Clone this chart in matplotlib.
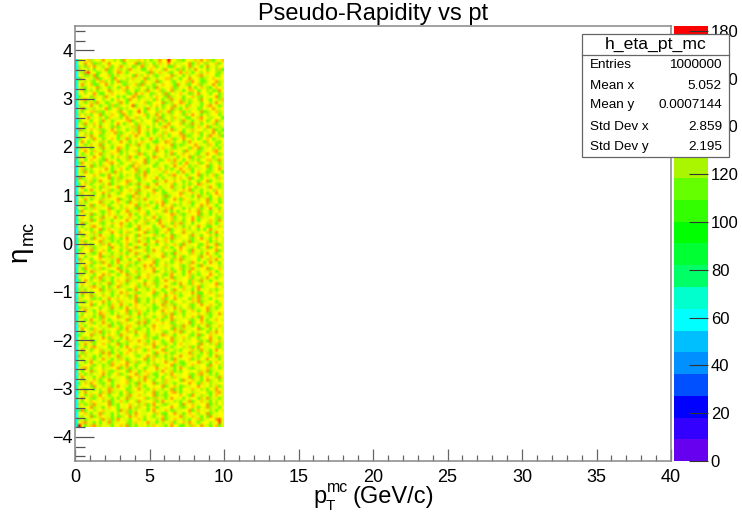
import numpy as np
from matplotlib import pyplot as plt
from matplotlib.colors import ListedColormap, BoundaryNorm
from matplotlib.patches import Rectangle
from matplotlib.ticker import MultipleLocator

plt.rcParams['font.family'] = ['Liberation Sans', 'DejaVu Sans']
plt.rcParams['mathtext.fontset'] = 'custom'
plt.rcParams['mathtext.rm'] = 'Liberation Sans'
plt.rcParams['mathtext.it'] = 'Liberation Sans'

# palette bands of the z axis, bottom to top
band_colors = ['#6600ee', '#3300ff', '#0000ff', '#0050ff', '#0090ff', '#00bfff', '#00ffff',
               '#00ffcc', '#00ff66', '#00ff33', '#00ff00', '#33ff00', '#66ff00', '#aaf500',
               '#ddff00', '#ffff00', '#ffcc00', '#ff9900', '#ff5500', '#ff0000']
z_max = 182
z_ticks = [0, 20, 40, 60, 80, 100, 120, 140, 160, 180]

stats_title = 'h_eta_pt_mc'
stats_names = ['Entries', 'Mean x', 'Mean y', 'Std Dev x', 'Std Dev y']
stats_values = ['1000000', '5.052', '0.0007144', '2.859', '2.195']

# cell colours are estimated by eye from the picture, so this is an approximation
# of the real noise. top row first, one digit per cell: band number minus 10
first_bin = ('67676667766767666776676667676766776667677666766767'
             '66776766677667676667767666776767667677666767766676'
             '7667676677667')
cells = [
    '4556345475443527544465352447559453325546475632456',
    '5475623354755542455716345246457534455724653354625',
    '3426574435625474452357345625452265435735425745355',
    '6453525447235635374452256545375442625347545245362',
    '4378452354235764255445427356453255746425435655324',
    '5423471555624354452743565324455734525354674455235',
    '2654437245427545346445724535566354255745423456545',
    '4435325663525723354452654472455325456375422455734',
    '5745622457435542345627354245655427453255624457425',
    '4325457354245265754435525274455623545742564325654',
    '5624352445735456245235374456245734425665245342375',
    '4535574225465455324756452345372545654235745425524',
    '2455264537455242557623453565427345425564325455724',
    '4673425534525654274535445265253745624345375425436',
    '5424637452345374255445623555724355764245425534754',
    '3455745245262345458254453565245374452654425675424',
    '5724435457245624355465274525345734256445235457445',
    '4255663325455375424585245536457245624355472345634',
    '6534255724465527434555625475244355426575425345524',
    '4557445352654425745634525347255364452254675434552',
    '2454255374524555672453555274625345374425465245734',
    '5374465245435752455264455352447555624374425456245',
    '4524535745426245446374525354675245453325645724434',
    '7245654324575345244375465225445734525464553457242',
    '4534255624457324556475425245364555724435625447524',
    '5464745234555264535745425446352454673245425375462',
    '2455374524565244735452457525345624574535245652445',
    '4752445364245475425356454224576435524745542654325',
    '5424654725434555264374425465545724234557445365244',
    '3654245374425764245535424575645324455265724453425',
    '4575364524455724354625445374524654527454234556745',
    '5245245734465425355476245245534725465453254755624',
    '6434575424525654374245425764534452545724634552445',
    '4525654327445245365455724452356474525434255664374',
    '2754435245675424553654725425455364257445624534524',
    '5445724364525345427564455234524574565243455724564',
    '4624355457424565245734425546534245754625445324574',
    '5374245654427435545624725445365452475425654234552',
    '4455565324754425345264745452453675452455724356245',
    '7245434555724624455324654575245435654725425445364',
    '4534624745425345764524455234574565425354245725445',
    '2564245435724455624374425475445624534245764455324',
    '4755435264455724355425674452545734425652445375424',
    '5424745354624425564374455725245434565724425453654',
    '3654425574354265445724534655224455734564425245754',
    '4254635424745455327464525445372545654425734425564',
    '5474245364455724425634745455324574265445354725424',
    '6424555734425654274534452465724545354624455734524',
    '4354725464245435455724364525745624354425574654245',
    '5424364455724534654274455325464755425354624574425',
    '2754455324654245734465425455374252445654735424564',
    '4534724425654354574245624534455764324455724425354',
    '5654245374457425464525354752445624534574264455324',
    '3454725634425455754245364527445634425574245464374',
    '4724455324564574425354624457445264734525455364245',
    '5254674534425564324574455245734564425354754225464',
    '4534245724654435455274564324457245464354252574455',
    '7455364245475425634455724324564255474534455624754',
    '5264434754425564355274455634245724455374425564245',
    '4455274564324425754354624245464734455324574425654',
    '3624455734425245654374425574465245534724455624354',
    '5574245364754425624455734425534564274455324654724',
    '4354624455274534654724425455364245754435245724654',
    '2455734564245425374455624754354425654274534455724',
    '5654324754425464245734534455624274455364425754245',
    '4524455724364425654354274455734425624455374564425',
    '7354245654434725425574354624455264734455245364754',
    '4455624374425754464234555724534245654374452574425',
    '3564245455734425624354757425464455324654274455534',
    '5274434624455724354425654754435245624374455724564',
    '4425764455324574245634455724534625425754354465245',
    '6354425574654245734425564455324754425634245574534',
    '4455264734425455364274564425354724455624534754245',
    '2574354624425654734455245324574564455264374425455',
    '5654425354724564245434754624455324754265534455724',
    '4354674425245734455624364525574455264534724455654',
    '3425455724634455324754425654245374564425754534245',
    '5764245435424574654324455724425634354574225464455',
    '4254734564425354624754455234574564245534724455364',
    '6455324254754654534724425354624574455264734425455',
    '4324654574245364455724425654374245534564724455245',
    '5455724534264574425654354245734624455324574564425',
    '2634455245374425754654534225464574354624455734245',
    '4574425654324455724364425254754534624564245734455',
    '5254534764425354624574245455364724425455654324574',
    '3654425274455734564425354245624754534564274425455',
    '4424754364245455724534624564245734455324574254654',
    '5354624574425264455374724455654235445724564324455',
    '6425455354724425664534254754455624374425254734564',
    '4754264534455624754324525654455274364455724425354',
    '5254464724354245634754425455324564724534455264754',
    '2455734425654374455245624534764425455324724564455',
    '4624354574264525754455634225455734564354245574425',
    '5354724455624254364574425654245734534455624274564',
    '3574425564354724255455634754324525654455274534624',
    '4425674455234525754364455724564245534624754455324',
    '5754245634425354574654264455724534255464374425754',
    '4264455374724425654354455274564235445734425624455',
    '7534425254654734455324574624425354754564245425734',
    '4354624574425364245455724654534274455624354754425',
    '5424754354264455734624425354574564225455734425654',
    '3455624524374564754245534624455724324564455274534',
    '4674245534455724624354245574564425754324455634524',
    '5254734564324455274524654534754624255455364724455',
    '6424354574245624455734564225534754455324674425245',
    '4754425624354455274564734425255364455724425654374',
    '5334564245724455624534754255364455274564425734524',
    '2564754324525455634274455724364425455754264534455',
    '4455274534624754425364255455724564234455754534624',
    '5624425354764455234574425654354724255464534254754',
    '3574455264734425624455354724425674254534455324674',
    '4524634754245425374564455724324555654274534425654',
    '5754324564425254734455624364425754525455264734424',
    '4254654534724564255374455624754534254724564425354',
    '6424374455724254564534624754324455274564455724354',
    '4455734425654254574364525624455754324564254734425',
    '2724534564455274624354425754564234455724654534254',
    '5564254734425354624754455364225574425654354724455',
    '4354724654425234574654354245624455734564425274455',
    '3424455374624754425564254534724564534254624455784',
    '5674425254734455324654574425354624564754245534584',
    '9424674354425564724254534654425754225364574425624',
]


def read_cells():
    # digit -> z value in the middle of its band
    band_width = z_max / len(band_colors)
    n_rows = len(cells)
    z = np.zeros((n_rows, 50))
    for i, row in enumerate(cells):
        digits = row[:49].ljust(49, '4')
        z[i, 0] = (int(first_bin[i % len(first_bin)]) + 0.5) * band_width
        for j, d in enumerate(digits):
            z[i, j + 1] = (int(d) + 10.5) * band_width
    return z


W, H = 742, 513
fig = plt.figure(figsize=(W / 100, H / 100), dpi=100)
ax = fig.add_axes((75 / W, 1 - 461 / H, 596 / W, 435 / H))

cmap = ListedColormap(band_colors)
norm = BoundaryNorm(np.linspace(0, z_max, len(band_colors) + 1), len(band_colors))

# the reference is a rescaled screenshot, so the cells blend a little
z = read_cells()
mesh = ax.imshow(z, cmap=cmap, norm=norm, extent=(0, 10, -3.8, 3.8), aspect='auto',
                 interpolation='bilinear', interpolation_stage='rgba')

ax.set_xlim(0, 40)
ax.set_ylim(-4.5, 4.5)
ax.xaxis.set_major_locator(MultipleLocator(5))
ax.xaxis.set_minor_locator(MultipleLocator(1))
ax.yaxis.set_major_locator(MultipleLocator(1))
ax.yaxis.set_minor_locator(MultipleLocator(0.2))
ax.tick_params(axis='x', which='major', direction='in', length=9, width=0.9, color='#666666',
               labelsize=13, pad=6)
ax.tick_params(axis='x', which='minor', direction='in', length=4.5, width=0.9, color='#666666')
ax.tick_params(axis='y', which='major', direction='in', length=14, width=0.9, color='#555555',
               labelsize=13, pad=2)
ax.tick_params(axis='y', which='minor', direction='in', length=7, width=0.9, color='#555555')
for side in ax.spines.values():
    side.set_color('#888888')
    side.set_linewidth(1.1)

# z axis
cax = fig.add_axes((674 / W, 1 - 461 / H, 34 / W, 435 / H))
cbar = fig.colorbar(mesh, cax=cax, ticks=z_ticks, spacing='proportional', drawedges=False)
cbar.outline.set_visible(False)
cbar.ax.minorticks_off()
cbar.ax.tick_params(direction='in', length=14, width=0.8, color='#333333', labelsize=12, pad=2)

# overlay in picture pixels for the title, labels and stats box
over = fig.add_axes((0, 0, 1, 1), zorder=5)
over.set_xlim(0, W)
over.set_ylim(H, 0)
over.axis('off')
over.patch.set_alpha(0)

over.text(373.5, 14, 'Pseudo-Rapidity vs pt', ha='center', va='center', fontsize=17)
over.text(313, 503, 'p', ha='left', va='baseline', fontsize=17)
over.text(327, 492, 'mc', ha='left', va='baseline', fontsize=11.5)
over.text(326, 509.5, 'T', ha='left', va='baseline', fontsize=11)
over.text(353, 503, '(GeV/c)', ha='left', va='baseline', fontsize=17)
over.text(33, 262, '\u03b7', ha='left', va='bottom', rotation=90, rotation_mode='anchor', fontsize=20)
over.text(37, 245, 'mc', ha='left', va='bottom', rotation=90, rotation_mode='anchor', fontsize=13)

over.add_patch(Rectangle((582, 34), 147, 123, facecolor='white', edgecolor='#666666', linewidth=0.9))
over.plot([582, 729], [55, 55], color='#666666', lw=0.9)
over.text(655.5, 44.5, stats_title, ha='center', va='center', fontsize=12.6)
for row_y, name, value in zip([65, 86, 105, 127, 147], stats_names, stats_values):
    over.text(590, row_y, name, ha='left', va='center', fontsize=9.7)
    over.text(722, row_y, value, ha='right', va='center', fontsize=9.7)

fig.savefig('out.png', dpi=100)
